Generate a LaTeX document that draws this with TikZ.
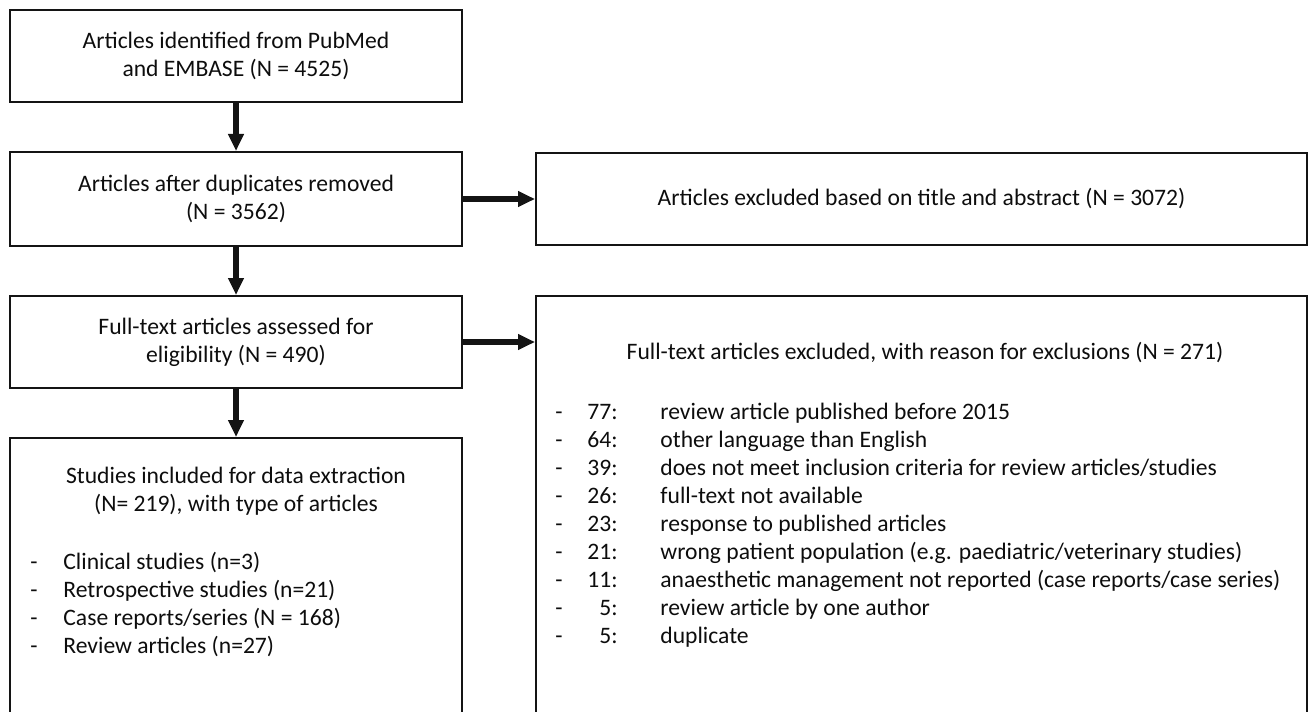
\documentclass[tikz,border=0pt]{standalone}
\usepackage{fontspec}
\setmainfont{Carlito}
\usetikzlibrary{arrows.meta}

\tikzset{
  box/.style={draw=black!92,line width=1pt,inner sep=0pt,align=center,
    text=black!95,font=\fontsize{11.8}{14}\selectfont},
  txt/.style={inner sep=0pt,text=black!95,font=\fontsize{11.8}{14}\selectfont},
  flow/.style={draw=black!92,line width=2.7pt,-{Triangle[length=8.5pt,width=7.5pt]}}
}

\begin{document}
\begin{tikzpicture}[x=0.5pt,y=-0.5pt]
\useasboundingbox (0,0) rectangle (1309,711);
\clip (0,0) rectangle (1309,711);
% left column
\node[box,minimum width=226pt,minimum height=46pt] (ident) at (236,56)
 {Articles identified from PubMed\\ and EMBASE (N = 4525)};
\node[box,minimum width=226pt,minimum height=47pt] (dedup) at (236,199)
 {Articles after duplicates removed\\ (N = 3562)};
\node[box,minimum width=226pt,minimum height=46pt] (assess) at (236,342)
 {Full-text articles assessed for\\ eligibility (N = 490)};
\node[box,minimum width=226pt,minimum height=151pt] (incl) at (236,589) {};
% right column
\node[box,minimum width=385.5pt,minimum height=46pt] (exclA) at (921.5,199)
 {Articles excluded based on title and abstract (N = 3072)};
\node[box,minimum width=385.5pt,minimum height=222pt] (exclB) at (921.5,518) {};

\draw[flow] (ident) -- (dedup);
\draw[flow] (dedup) -- (assess);
\draw[flow] (assess) -- (incl);
\draw[flow] (dedup.east) -- (exclA.west);
\draw[flow] (assess.east) -- (assess.east -| exclB.west);

% included studies
\node[txt,align=center] (inclT) at (236,491)
 {Studies included for data extraction\\ (N= 219), with type of articles};
\foreach \t [count=\i] in {{Clinical studies (n=3)},{Retrospective studies (n=21)},
  {Case reports/series (N = 168)},{Review articles (n=27)}}
{
  \node[txt,anchor=base west] (dashI\i) at (30,{569+28*(\i-1)}) {-};
  \node[txt,anchor=base west] (typeI\i) at (63,{569+28*(\i-1)}) {\t};
}

% excluded full texts
\node[txt] (exclT) at (925,353)
 {Full-text articles excluded, with reason for exclusions (N = 271)};
\foreach \n/\r [count=\i] in {77/{review article published before 2015},
  64/{other language than English},
  39/{does not meet inclusion criteria for review articles/studies},
  26/{full-text not available},
  23/{response to published articles},
  21/{wrong patient population (e.g. paediatric/veterinary studies)},
  11/{anaesthetic management not reported (case reports/case series)},
  5/{review article by one author},
  5/{duplicate}}
{
  \node[txt,anchor=base west] (dashE\i) at (555,{419+28*(\i-1)}) {-};
  \node[txt,anchor=base east] (numE\i) at (618,{419+28*(\i-1)}) {\n:};
  \node[txt,anchor=base west] (whyE\i) at (660,{419+28*(\i-1)}) {\r};
}
\end{tikzpicture}
\end{document}
